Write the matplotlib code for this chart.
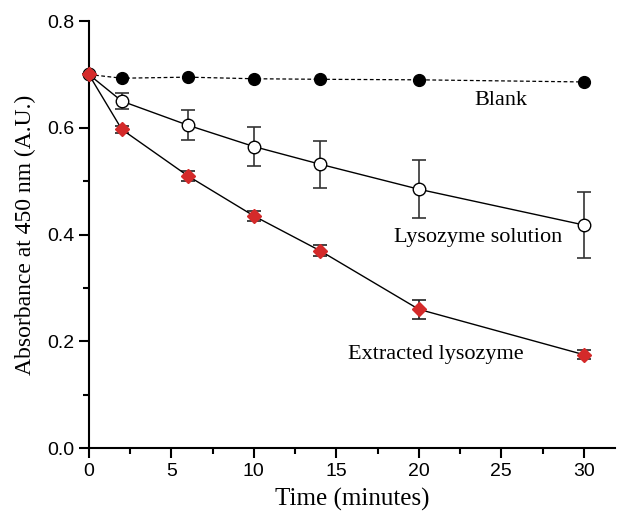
import matplotlib
matplotlib.use("Agg")
import matplotlib.pyplot as plt
from matplotlib.ticker import MultipleLocator

# data
time_min = [0, 2, 6, 10, 14, 20, 30]
blank = [0.700, 0.693, 0.695, 0.692, 0.691, 0.690, 0.686]
solution = [0.700, 0.650, 0.605, 0.565, 0.532, 0.485, 0.418]
solution_err = [0.0, 0.015, 0.028, 0.036, 0.044, 0.054, 0.061]
extracted = [0.700, 0.597, 0.510, 0.435, 0.370, 0.260, 0.175]
extracted_err = [0.0, 0.007, 0.010, 0.010, 0.010, 0.018, 0.009]

serif = "Liberation Serif"
sans = "Liberation Sans"

fig = plt.figure(figsize=(6.17, 5.15), dpi=100)
ax = fig.add_axes([0.144, 0.130, 0.853, 0.829])

ax.plot(time_min, blank, linestyle=(0, (3, 2)), color="black", lw=0.9,
        marker="o", markersize=8.5, markerfacecolor="black", zorder=3)
ax.errorbar(time_min, solution, yerr=solution_err, color="black", lw=1.0,
            ecolor="#333333", elinewidth=1.2, capsize=5, capthick=1.2,
            marker="o", markersize=9, markerfacecolor="white",
            markeredgecolor="black", zorder=3)
ax.errorbar(time_min, extracted, yerr=extracted_err, color="black", lw=1.0,
            ecolor="#222222", elinewidth=1.2, capsize=5, capthick=1.2,
            marker="D", markersize=7, markerfacecolor="#d42a2a",
            markeredgecolor="#d42a2a", zorder=3)

ax.text(25.0, 0.652, "Blank", fontfamily=serif, fontsize=16,
        ha="center", va="center")
ax.text(23.6, 0.395, "Lysozyme solution", fontfamily=serif, fontsize=16,
        ha="center", va="center")
ax.text(21.0, 0.176, "Extracted lysozyme", fontfamily=serif, fontsize=16,
        ha="center", va="center")

ax.set_xlim(0, 31.9)
ax.set_ylim(0, 0.8)
ax.xaxis.set_major_locator(MultipleLocator(5))
ax.xaxis.set_minor_locator(MultipleLocator(2.5))
ax.yaxis.set_major_locator(MultipleLocator(0.2))
ax.yaxis.set_minor_locator(MultipleLocator(0.1))
ax.yaxis.set_major_formatter(plt.FuncFormatter(lambda v, p: f"{v:.1f}"))

for side in ["top", "right"]:
    ax.spines[side].set_visible(False)
for side in ["left", "bottom"]:
    ax.spines[side].set_linewidth(1.5)

ax.tick_params(which="major", direction="out", length=7, width=1.5,
               labelsize=14)
ax.tick_params(which="minor", direction="out", length=4, width=1.5)
for lab in ax.get_xticklabels() + ax.get_yticklabels():
    lab.set_fontfamily(sans)

ax.set_xlabel("Time (minutes)", fontfamily=serif, fontsize=18, labelpad=6)
ax.set_ylabel("Absorbance at 450 nm (A.U.)", fontfamily=serif, fontsize=17,
              labelpad=8)

for line in ax.lines:
    line.set_clip_on(False)

fig.savefig("out.png", dpi=100)
